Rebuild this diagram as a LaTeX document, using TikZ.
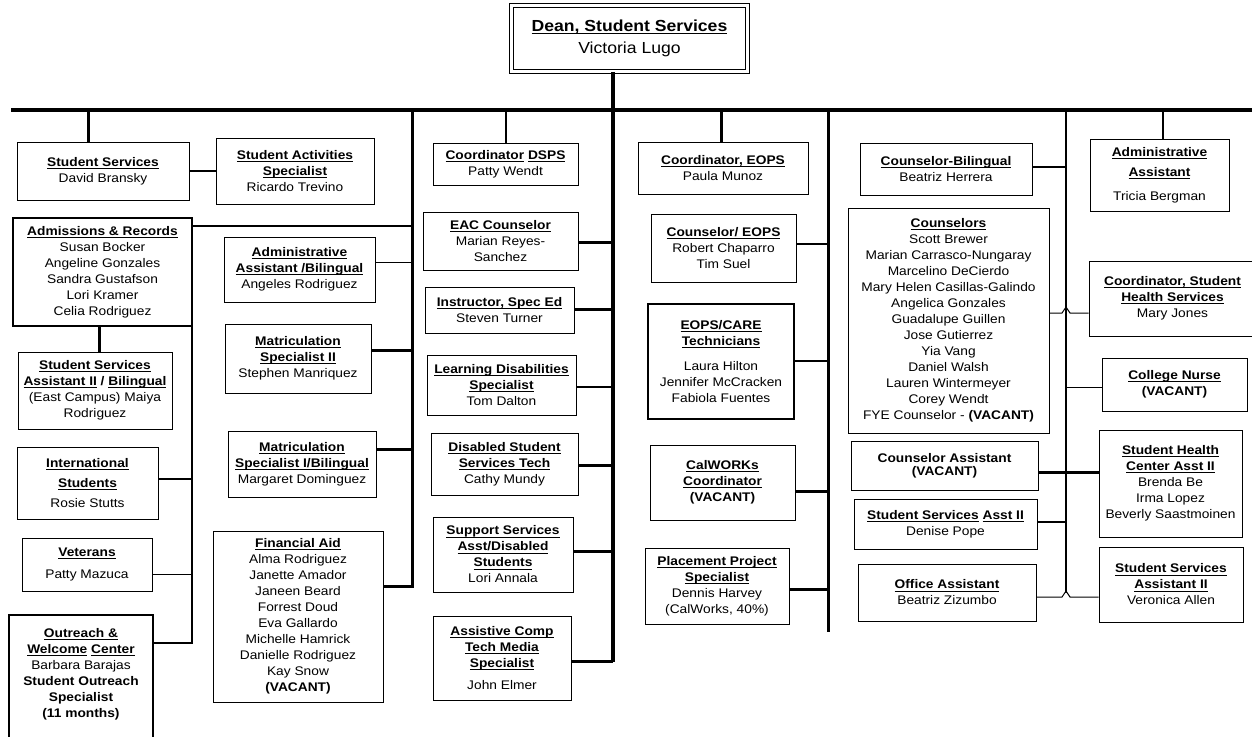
\documentclass[tikz,border=0pt]{standalone}
\usepackage{fontspec}
\setmainfont{Liberation Sans}[FakeStretch=1.1]
\newcommand\ulx[1]{\setbox0=\hbox{#1}\rlap{\rule[-2.6pt]{\wd0}{0.9pt}}\box0\relax}
\newcommand\hd[1]{\ulx{\textbf{#1}}}
\newcommand\mkbox[7]{\node[bx,#6,minimum width=#4pt-#2pt,minimum height=#5pt-#3pt] (#1) at ({(#2+#4)/2},{(#3+#5)/2}) {#7};}
\tikzset{
  bx/.style={draw,line width=0.9pt,inner sep=0pt,align=center,font=\fontsize{12.5}{16}\selectfont},
  bxk/.style={line width=2pt},
  w1/.style={line width=1pt},
  w15/.style={line width=1.5pt},
  w2/.style={line width=2pt},
  w3/.style={line width=3pt},
  w4/.style={line width=4pt},
}
\begin{document}
\begin{tikzpicture}[x=1pt,y=-1pt]
\useasboundingbox (0,0) rectangle (1252,736);
\clip (0,0) rectangle (1252,736);
% Dean
\node[draw,double,double distance=3pt,line width=0.8pt,inner sep=0pt,minimum width=236pt,minimum height=66pt,align=center,font=\fontsize{16}{22}\selectfont] (dean) at (629.5,38.5) {\raisebox{-3pt}{\hd{Dean, Student Services}}\\\raisebox{-3pt}{Victoria Lugo}};
% column 1
\mkbox{ss}{17}{142}{189}{200}{}{\hd{Student Services}\\David Bransky}
\mkbox{sas}{216}{138}{374}{204}{}{\hd{Student Activities}\\\hd{Specialist}\\Ricardo Trevino}
\mkbox{ar}{13}{218}{192}{326}{bxk}{\hd{Admissions \& Records}\\Susan Bocker\\Angeline Gonzales\\Sandra Gustafson\\Lori Kramer\\Celia Rodriguez}
\mkbox{ssa2}{18}{352}{172}{429}{}{\hd{Student Services}\\\hd{Assistant II} \textbf{/} \hd{Bilingual}\\(East Campus) Maiya\\Rodriguez}
\mkbox{intl}{17}{447}{158}{519}{}{\hd{International}\\[4pt]\hd{Students}\\[4pt]Rosie Stutts}
\mkbox{vet}{22}{538}{152}{591}{}{\hd{Veterans}\\[6pt]Patty Mazuca}
\mkbox{out}{9}{615}{153}{760}{bxk}{}
\node[bx,draw=none,anchor=north] (outt) at (81,628) {\hd{Outreach \&}\\\hd{Welcome} \hd{Center}\\Barbara Barajas\\\textbf{Student Outreach}\\\textbf{Specialist}\\\textbf{(11 months)}};
% column 2
\mkbox{aab}{224}{237}{375}{302}{}{\hd{Administrative}\\\hd{Assistant /Bilingual}\\Angeles Rodriguez}
\mkbox{ms2}{225}{324}{371}{393}{}{\hd{Matriculation}\\\hd{Specialist II}\\Stephen Manriquez}
\mkbox{ms1}{228}{431}{376}{497}{}{\hd{Matriculation}\\\hd{Specialist I/Bilingual}\\Margaret Dominguez}
\mkbox{fa}{213}{531}{383}{702}{}{\hd{Financial Aid}\\Alma Rodriguez\\Janette Amador\\Janeen Beard\\Forrest Doud\\Eva Gallardo\\Michelle Hamrick\\Danielle Rodriguez\\Kay Snow\\\textbf{(VACANT)}}
% column 3
\mkbox{dsps}{433}{143}{578}{185}{}{\hd{Coordinator} \hd{DSPS}\\Patty Wendt}
\mkbox{eac}{423}{212}{578}{270}{}{\hd{EAC Counselor}\\Marian Reyes-\\Sanchez}
\mkbox{ise}{425}{287}{574}{333}{}{\hd{Instructor, Spec Ed}\\Steven Turner}
\mkbox{lds}{427}{355}{576}{415}{}{\hd{Learning Disabilities}\\\hd{Specialist}\\Tom Dalton}
\mkbox{dsst}{431}{433}{578}{495}{}{\hd{Disabled Student}\\\hd{Services Tech}\\Cathy Mundy}
\mkbox{ssad}{433}{517}{573}{592}{}{\hd{Support Services}\\\hd{Asst/Disabled}\\\hd{Students}\\Lori Annala}
\mkbox{act}{433}{616}{571}{700}{}{\hd{Assistive Comp}\\\hd{Tech Media}\\\hd{Specialist}\\[6pt]John Elmer}
% column 4
\mkbox{ceops}{638}{142}{808}{194}{}{\hd{Coordinator, EOPS}\\Paula Munoz}
\mkbox{cneops}{651}{214}{796}{282}{}{\hd{Counselor/ EOPS}\\Robert Chaparro\\Tim Suel}
\mkbox{care}{648}{304}{794}{419}{bxk}{\hd{EOPS/CARE}\\\hd{Technicians}\\[9pt]Laura Hilton\\Jennifer McCracken\\Fabiola Fuentes}
\mkbox{calw}{650}{445}{795}{520}{}{\hd{CalWORKs}\\\hd{Coordinator}\\\textbf{(VACANT)}}
\mkbox{pps}{645}{548}{789}{624}{}{\hd{Placement Project}\\\hd{Specialist}\\Dennis Harvey\\(CalWorks, 40\%)}
% column 5
\mkbox{cbil}{860}{143}{1032}{195}{}{\hd{Counselor-Bilingual}\\Beatriz Herrera}
\mkbox{couns}{848}{208}{1049}{433}{}{\hd{Counselors}\\Scott Brewer\\Marian Carrasco-Nungaray\\Marcelino DeCierdo\\Mary Helen Casillas-Galindo\\Angelica Gonzales\\Guadalupe Guillen\\Jose Gutierrez\\Yia Vang\\Daniel Walsh\\Lauren Wintermeyer\\Corey Wendt\\FYE Counselor - \textbf{(VACANT)}}
\mkbox{ca}{851}{441}{1038}{490}{}{\textbf{Counselor Assistant}\\[-3pt]\textbf{(VACANT)}}
\mkbox{ssab}{854}{499}{1037}{549}{}{\hd{Student Services} \hd{Asst II}\\Denise Pope}
\mkbox{oa}{858}{564}{1036}{621}{}{\hd{Office Assistant}\\Beatriz Zizumbo}
% column 6
\mkbox{aa}{1090}{139}{1229}{211}{}{\hd{Administrative}\\[4pt]\hd{Assistant}\\[8pt]Tricia Bergman}
\mkbox{cshs}{1089}{261}{1256}{336}{}{\hd{Coordinator, Student}\\\hd{Health Services}\\Mary Jones}
\mkbox{cn}{1102}{358}{1247}{411}{}{\hd{College Nurse}\\\textbf{(VACANT)}}
\mkbox{shca}{1099}{430}{1242}{537}{}{\hd{Student Health}\\\hd{Center Asst II}\\Brenda Be\\Irma Lopez\\Beverly Saastmoinen}
\mkbox{ssac}{1099}{547}{1243}{622}{}{\hd{Student Services}\\\hd{Assistant II}\\Veronica Allen}
% bar coordinates
\coordinate (bl) at (11,110);
\coordinate (br) at (1252,110);
\coordinate (b88) at (88,110);
\coordinate (b412) at (412,110);
\coordinate (b506) at (506,110);
\coordinate (b613) at (613,110);
\coordinate (b721) at (721,110);
\coordinate (b828) at (828,110);
\coordinate (b1066) at (1066,110);
\coordinate (b1163) at (1163,110);
\coordinate (v192) at (192,226);
\coordinate (v99) at (99,326);
% main structure
\draw[w4] (bl) -- (br);
\draw[w4] (dean.south -| b613) -- (b613) -- (b613 |- 0,662);
\draw[w3] (b88) -- (ss.north -| b88);
\draw[w3] (b412) -- (b412 |- 0,588);
\draw[w15] (b506) -- (dsps.north -| b506);
\draw[w3] (b721) -- (ceops.north -| b721);
\draw[w3] (b828) -- (b828 |- 0,632);
\draw[w2] (b1066) -- (b1066 |- 0,593);
\draw[w15] (b1163) -- (aa.north -| b1163);
% column 1
\draw[w2] (ss.east) -- (sas.west |- ss.east);
\draw[w15] (v192) -- (b412 |- v192);
\draw[w2] (v192) -- (v192 |- 0,644);
\draw[w3] (v99) -- (ssa2.north -| v99);
\draw[w15] (intl.east |- 0,479) -- (v192 |- 0,479);
\draw[w1] (vet.east |- 0,574) -- (v192 |- 0,574);
\draw[w15] (out.east |- 0,643) -- (v192 |- 0,643);
% column 2
\draw[w1] (aab.east |- 0,262) -- (b412 |- 0,262);
\draw[w3] (ms2.east |- 0,350) -- (b412 |- 0,350);
\draw[w3] (ms1.east |- 0,449) -- (b412 |- 0,449);
\draw[w3] (fa.east |- 0,586) -- (b412 |- 0,586);
% column 3
\draw[w3] (eac.east |- 0,242) -- (b613 |- 0,242);
\draw[w3] (ise.east |- 0,309) -- (b613 |- 0,309);
\draw[w15] (lds.east |- 0,387) -- (b613 |- 0,387);
\draw[w3] (dsst.east |- 0,465) -- (b613 |- 0,465);
\draw[w3] (ssad.east |- 0,551) -- (b613 |- 0,551);
\draw[w3] (act.east |- 0,661) -- (b613 |- 0,661);
% column 4
\draw[w15] (cneops.east |- 0,244) -- (b828 |- 0,244);
\draw[w15] (care.east |- 0,361) -- (b828 |- 0,361);
\draw[w3] (calw.east |- 0,491) -- (b828 |- 0,491);
\draw[w3] (pps.east |- 0,589) -- (b828 |- 0,589);
% column 5/6
\draw[w15] (cbil.east |- 0,167) -- (b1066 |- 0,167);
\draw[w1] (couns.east |- 0,313) -- (1062,313) -- (1066,307) -- (1070,313) -- (cshs.west |- 0,313);
\draw[w1] (b1066 |- 0,387) -- (cn.west |- 0,387);
\draw[w3] (ca.east |- 0,472) -- (shca.west |- 0,472);
\draw[w2] (ssab.east |- 0,522) -- (b1066 |- 0,522);
\draw[w1] (oa.east |- 0,597) -- (1062,597) -- (1066,591) -- (1070,597) -- (ssac.west |- 0,597);
\end{tikzpicture}
\end{document}
